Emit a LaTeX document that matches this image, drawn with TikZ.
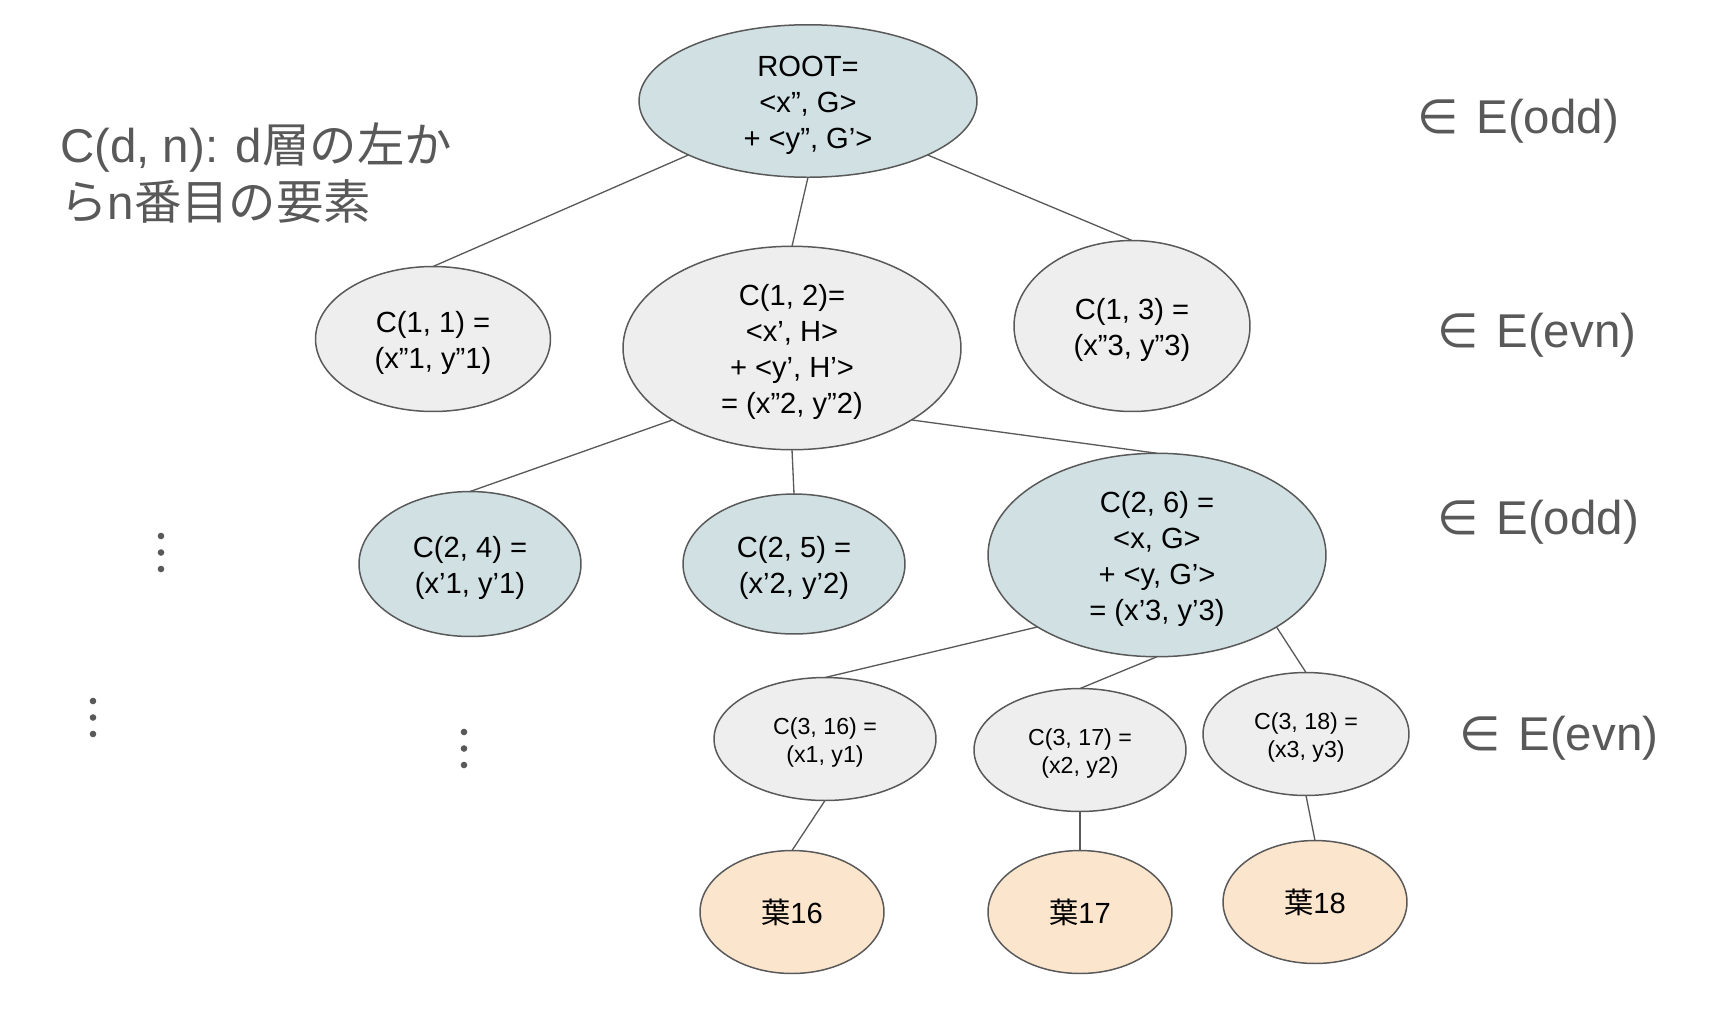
\documentclass[tikz,border=0pt]{standalone}
\usepackage{fontspec}
\setmainfont{Liberation Sans}
\newfontfamily\jpfont{Noto Sans CJK JP}
\newfontfamily\symfont{DejaVu Sans}
\usetikzlibrary{shapes.geometric}
\definecolor{oddfill}{HTML}{D0E0E3}
\definecolor{evnfill}{HTML}{EEEEEE}
\definecolor{leaffill}{HTML}{FCE5CD}
\definecolor{linegray}{HTML}{595959}
\newcommand{\tp}{\rule{0pt}{1.02em}}

\begin{document}
\begin{tikzpicture}[x=0.02cm,y=-0.02cm,
  every node/.style={font=\fontsize{16.6}{20.5}\selectfont},
  elp/.style={ellipse,draw=linegray,line width=.85pt,inner sep=0pt,outer sep=0pt,align=center},
  oddnode/.style={elp,fill=oddfill},
  evnnode/.style={elp,fill=evnfill},
  leafnode/.style={elp,fill=leaffill,minimum width=3.68cm,minimum height=2.46cm},
  small/.style={font=\fontsize{13.2}{16.3}\selectfont},
  edge/.style={draw=linegray,line width=.75pt},
  side/.style={anchor=west,text=linegray,font=\fontsize{27}{32}\selectfont},
  vdot/.style={fill=linegray}]
\useasboundingbox (0,0) rectangle (1720,1025);
% depth 0
\node[oddnode,minimum width=6.76cm,minimum height=2.98cm] (root) at (808,101) {\tp ROOT=\\<x”, G>\\+ <y”, G’>};
% depth 1
\node[evnnode,minimum width=4.70cm,minimum height=2.90cm] (c11) at (433,339) {\tp C(1, 1) =\\(x”1, y”1)};
\node[evnnode,minimum width=6.76cm,minimum height=4.04cm] (c12) at (792,348) {\tp C(1, 2)=\\<x’, H>\\+ <y’, H’>\\= (x”2, y”2)};
\node[evnnode,minimum width=4.72cm,minimum height=3.42cm] (c13) at (1132,326) {\tp C(1, 3) =\\(x”3, y”3)};
% depth 2
\node[oddnode,minimum width=4.44cm,minimum height=2.90cm] (c24) at (470,564) {\tp C(2, 4) =\\(x’1, y’1)};
\node[oddnode,minimum width=4.44cm,minimum height=2.80cm] (c25) at (794,564) {\tp C(2, 5) =\\(x’2, y’2)};
\node[oddnode,minimum width=6.76cm,minimum height=4.04cm] (c26) at (1157,555) {\tp C(2, 6) =\\<x, G>\\+ <y, G’>\\= (x’3, y’3)};
% depth 3
\node[evnnode,small,minimum width=4.44cm,minimum height=2.46cm] (c316) at (825,739) {\tp C(3, 16) =\\(x1, y1)};
\node[evnnode,small,minimum width=4.24cm,minimum height=2.46cm] (c317) at (1080,750) {\tp C(3, 17) =\\(x2, y2)};
\node[evnnode,small,minimum width=4.12cm,minimum height=2.46cm] (c318) at (1306,734) {\tp C(3, 18) =\\(x3, y3)};
% leaves
\node[leafnode] (leaf16) at (792,912) {{\jpfont 葉}16};
\node[leafnode] (leaf17) at (1080,912) {{\jpfont 葉}17};
\node[leafnode] (leaf18) at (1315,902) {{\jpfont 葉}18};

\draw[edge] (root.south west) -- (c11.north);
\draw[edge] (root.south) -- (c12.north);
\draw[edge] (root.south east) -- (c13.north);
\draw[edge] (c12.south west) -- (c24.north);
\draw[edge] (c12.south) -- (c25.north);
\draw[edge] (c12.south east) -- (c26.north);
\draw[edge] (c26.south west) -- (c316.north);
\draw[edge] (c26.south) -- (c317.north);
\draw[edge] (c26.south east) -- (c318.north);
\draw[edge] (c316.south) -- (leaf16.north);
\draw[edge] (c317.south) -- (leaf17.north);
\draw[edge] (c318.south) -- (leaf18.north);

% labels
\node[side,align=left] (legend) at (54,173) {C(d, n): d{\jpfont 層の左か}\\{\jpfont ら}n{\jpfont 番目の要素}};
\node[side] (lvl0) at (1411,121) {{\symfont ∈}\kern.1em{} E(odd)};
\node[side] (lvl1) at (1431,335) {{\symfont ∈}\kern.1em{} E(evn)};
\node[side] (lvl2) at (1431,522) {{\symfont ∈}\kern.1em{} E(odd)};
\node[side] (lvl3) at (1453,738) {{\symfont ∈}\kern.1em{} E(evn)};

% ellipsis dots
\foreach \dx/\dy in {161/536,93/701,464/732}
  \foreach \k in {0,1,2}
    \fill[vdot] (\dx,\dy+16.5*\k) circle (3.3);
\end{tikzpicture}
\end{document}
